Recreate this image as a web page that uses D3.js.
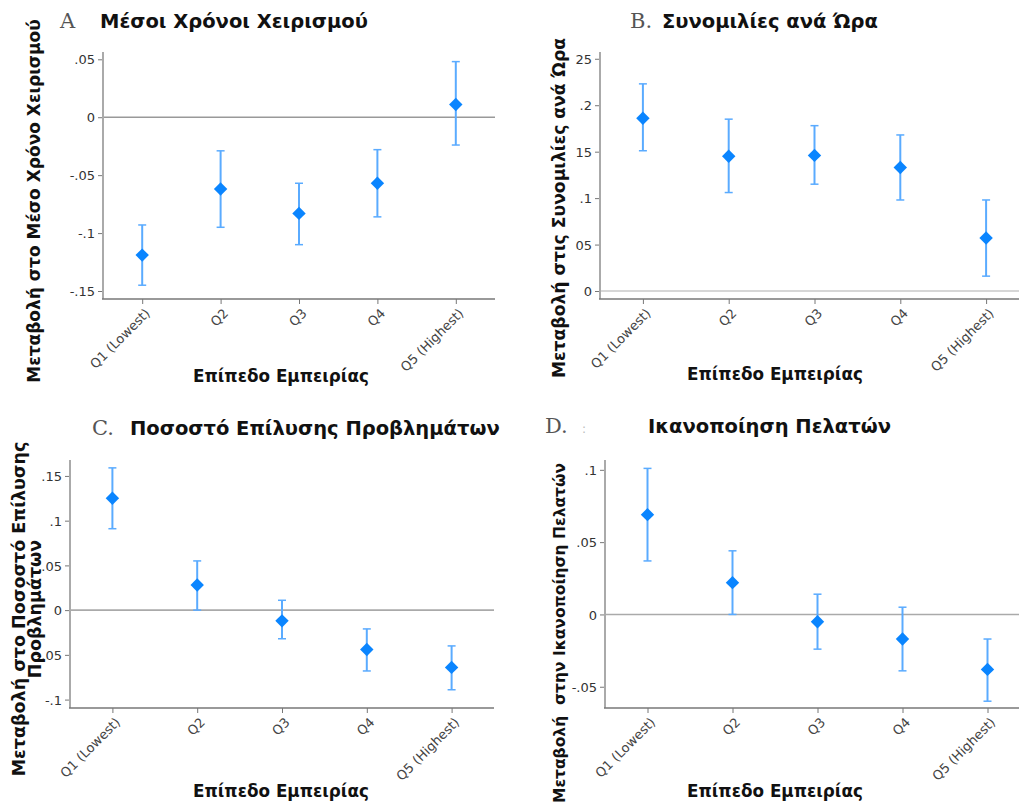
<!DOCTYPE html>
<html lang="el">
<head>
<meta charset="UTF-8" />
<title>Μεταβολές ανά Επίπεδο Εμπειρίας</title>
<script src="https://cdn.jsdelivr.net/npm/d3@7"></script>
<style>
  body { margin: 0; background: #fff; }
  svg { display: block; }
  .tick-label { font-family: "DejaVu Sans", sans-serif; font-size: 13px; fill: #333; }
  .xcat { font-family: "DejaVu Sans", sans-serif; font-size: 13px; fill: #444; }
  .ptitle { font-family: "DejaVu Sans", sans-serif; font-weight: bold; font-size: 19.5px; fill: #111; }
  .pletter { font-family: "DejaVu Serif", "Liberation Serif", serif; font-size: 21px; fill: #555; }
  .axtitle { font-family: "DejaVu Sans", sans-serif; font-weight: bold; font-size: 16.8px; fill: #111; white-space: pre; }
</style>
</head>
<body>
<script>
// categories (experience quintiles)
var categories = ["Q1 (Lowest)", "Q2", "Q3", "Q4", "Q5 (Highest)"];

// A. handle time
var handleEst = [-0.119, -0.062, -0.083, -0.057, 0.011];
var handleLo  = [-0.145, -0.095, -0.110, -0.086, -0.024];
var handleHi  = [-0.093, -0.029, -0.057, -0.028, 0.048];
var handleTicks = [0.05, 0, -0.05, -0.1, -0.15];
var handleTickLabels = [".05", "0", "-.05", "-.1", "-.15"];

// B. chats per hour
var chatsEst = [0.186, 0.145, 0.146, 0.133, 0.057];
var chatsLo  = [0.151, 0.106, 0.115, 0.098, 0.016];
var chatsHi  = [0.223, 0.185, 0.178, 0.168, 0.098];
var chatsTicks = [0.25, 0.2, 0.15, 0.1, 0.05, 0];
var chatsTickLabels = ["25", ".2", "15", ".1", "05", "0"];

// C. resolution rate
var resolEst = [0.125, 0.028, -0.012, -0.044, -0.064];
var resolLo  = [0.091, 0.000, -0.032, -0.068, -0.089];
var resolHi  = [0.159, 0.055, 0.011, -0.021, -0.040];
var resolTicks = [0.15, 0.1, 0.05, 0, -0.05, -0.1];
var resolTickLabels = [".15", ".1", ".05", "0", "-.05", "-.1"];

// D. customer satisfaction
var satEst = [0.069, 0.022, -0.005, -0.017, -0.038];
var satLo  = [0.037, 0.000, -0.024, -0.039, -0.060];
var satHi  = [0.101, 0.044, 0.014, 0.005, -0.017];
var satTicks = [0.1, 0.05, 0, -0.05];
var satTickLabels = [".1", ".05", "0", "-.05"];

var W = 1019, H = 803;
var svg = d3.select("body").append("svg")
  .attr("width", W)
  .attr("height", H);

var panels = [
  { letter: "A", title: "Μέσοι Χρόνοι Χειρισμού", lx: 60, tx: 100, ty: 28,
    ylab: ["Μεταβολή στο Μέσο Χρόνο Χειρισμού"], ylabX: [40], ylabY: 201, ylabSize: 17,
    est: handleEst, lo: handleLo, hi: handleHi, ticks: handleTicks, tickLabels: handleTickLabels,
    x0: 103, x1: 495, yTop: 52, yBot: 299, dom: [-0.1569, 0.0563],
    zeroCol: "#999", xtX: 281, xtY: 382 },
  { letter: "B.", title: "Συνομιλίες ανά Ώρα", lx: 630, tx: 662, ty: 28,
    ylab: ["Μεταβολή στις Συνομιλίες ανά Ώρα"], ylabX: [565], ylabY: 208, ylabSize: 17.2,
    est: chatsEst, lo: chatsLo, hi: chatsHi, ticks: chatsTicks, tickLabels: chatsTickLabels,
    x0: 600, x1: 1029, yTop: 52, yBot: 299, dom: [-0.0086, 0.2573],
    zeroCol: "#c8c8c8", xtX: 775, xtY: 380 },
  { letter: "C.", title: "Ποσοστό Επίλυσης Προβλημάτων", lx: 92, tx: 130, ty: 435,
    ylab: ["Μεταβολή στο Ποσοστό Επίλυσης", "Προβλημάτων"], ylabX: [25, 41], ylabY: 609, ylabSize: 17.5,
    est: resolEst, lo: resolLo, hi: resolHi, ticks: resolTicks, tickLabels: resolTickLabels,
    x0: 70, x1: 494, yTop: 460, yBot: 708, dom: [-0.1094, 0.1678],
    zeroCol: "#aaa", xtX: 281, xtY: 797 },
  { letter: "D.", title: "Ικανοποίηση Πελατών", lx: 545, tx: 648, ty: 433,
    ylab: ["Μεταβολή  στην Ικανοποίηση Πελατών"], ylabX: [565], ylabY: 633, ylabSize: 15.5,
    est: satEst, lo: satLo, hi: satHi, ticks: satTicks, tickLabels: satTickLabels,
    x0: 605, x1: 1030, yTop: 460, yBot: 708, dom: [-0.0647, 0.1068],
    zeroCol: "#aaa", xtX: 775, xtY: 797 }
];

panels.forEach(function(p) {
  var g = svg.append("g");

  var xScale = d3.scalePoint()
    .domain(categories)
    .range([p.x0, p.x1])
    .padding(0.5);

  var yScale = d3.scaleLinear()
    .domain(p.dom)
    .range([p.yBot, p.yTop]);

  // zero reference line
  g.append("line")
    .attr("x1", p.x0).attr("x2", p.x1)
    .attr("y1", yScale(0)).attr("y2", yScale(0))
    .attr("stroke", p.zeroCol)
    .attr("stroke-width", 1.6);

  // y axis
  var yAxis = d3.axisLeft(yScale)
    .tickValues(p.ticks)
    .tickSize(5)
    .tickPadding(3)
    .tickFormat(function(d, i) { return p.tickLabels[i]; });
  var ya = g.append("g")
    .attr("transform", "translate(" + p.x0 + ",0)")
    .call(yAxis);
  ya.select(".domain").remove();
  ya.selectAll(".tick line").attr("stroke", "#777");
  ya.selectAll(".tick text").attr("class", "tick-label").attr("dy", "0.36em");
  g.append("line")
    .attr("x1", p.x0).attr("x2", p.x0)
    .attr("y1", p.yTop).attr("y2", p.yBot)
    .attr("stroke", "#aaa")
    .attr("stroke-width", 2);

  // x axis
  var xAxis = d3.axisBottom(xScale).tickSize(5).tickPadding(4);
  var xa = g.append("g")
    .attr("transform", "translate(0," + p.yBot + ")")
    .call(xAxis);
  xa.select(".domain").remove();
  xa.selectAll(".tick line").attr("stroke", "#777");
  xa.selectAll(".tick text")
    .attr("class", "xcat")
    .attr("text-anchor", "end")
    .attr("dy", "0.3em")
    .attr("transform", "translate(-1,6) rotate(-45)");
  g.append("line")
    .attr("x1", p.x0 - 1).attr("x2", p.x1)
    .attr("y1", p.yBot).attr("y2", p.yBot)
    .attr("stroke", "#777")
    .attr("stroke-width", 1.6);

  // error bars
  var rows = categories.map(function(c, i) {
    return { cat: c, est: p.est[i], lo: p.lo[i], hi: p.hi[i] };
  });
  g.selectAll("line.ci")
    .data(rows).enter().append("line")
    .attr("class", "ci")
    .attr("x1", function(d) { return xScale(d.cat); })
    .attr("x2", function(d) { return xScale(d.cat); })
    .attr("y1", function(d) { return yScale(d.lo); })
    .attr("y2", function(d) { return yScale(d.hi); })
    .attr("stroke", "#5aabff")
    .attr("stroke-width", 2);
  ["lo", "hi"].forEach(function(k) {
    g.selectAll("line.cap-" + k)
      .data(rows).enter().append("line")
      .attr("class", "cap-" + k)
      .attr("x1", function(d) { return xScale(d.cat) - 4; })
      .attr("x2", function(d) { return xScale(d.cat) + 4; })
      .attr("y1", function(d) { return yScale(d[k]); })
      .attr("y2", function(d) { return yScale(d[k]); })
      .attr("stroke", "#5aabff")
      .attr("stroke-width", 1.5);
  });

  // point estimates (diamonds)
  g.selectAll("path.pt")
    .data(rows).enter().append("path")
    .attr("class", "pt")
    .attr("d", d3.symbol().type(d3.symbolSquare).size(90))
    .attr("transform", function(d) {
      return "translate(" + xScale(d.cat) + "," + yScale(d.est) + ") rotate(45)";
    })
    .attr("fill", "#0a85ff");

  // titles
  g.append("text").attr("class", "pletter")
    .attr("x", p.lx).attr("y", p.ty).text(p.letter);
  g.append("text").attr("class", "ptitle")
    .attr("x", p.tx).attr("y", p.ty).text(p.title);

  // axis titles
  p.ylab.forEach(function(t, i) {
    g.append("text").attr("class", "axtitle")
      .attr("text-anchor", "middle")
      .style("font-size", p.ylabSize + "px")
      .attr("transform", "translate(" + p.ylabX[i] + "," + p.ylabY + ") rotate(-90)")
      .text(t);
  });
  g.append("text").attr("class", "axtitle")
    .attr("text-anchor", "middle")
    .attr("x", p.xtX).attr("y", p.xtY)
    .text("Επίπεδο Εμπειρίας");
});

// stray mark next to the D label
svg.append("text")
  .attr("x", 582).attr("y", 433)
  .attr("fill", "#bbb")
  .style("font-family", "DejaVu Sans")
  .style("font-size", "12px")
  .text(":");
</script>
</body>
</html>
